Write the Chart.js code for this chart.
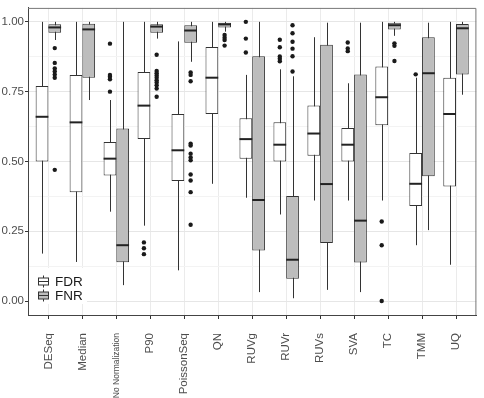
<!DOCTYPE html>
<html>
<head>
<meta charset="utf-8">
<script src="https://cdn.jsdelivr.net/npm/chart.js@4.4.0/dist/chart.umd.min.js"></script>
<style>
  html, body { margin: 0; padding: 0; background: #fff; }
  #wrap { width: 484px; height: 398px; position: relative; }
</style>
</head>
<body>
<div id="wrap"><canvas id="grafico"></canvas></div>
<script>
const FONTE = 'Liberation Sans, Arial, Helvetica, sans-serif';

const categorias = ['DESeq', 'Median', 'No Normalization', 'P90', 'PoissonSeq', 'QN',
  'RUVg', 'RUVr', 'RUVs', 'SVA', 'TC', 'TMM', 'UQ'];

// FDR
const fdrMin = [0.17, 0.14, 0.32, 0.27, 0.11, 0.42, 0.37, 0.31, 0.36, 0.36, 0.36, 0.20, 0.13];
const fdrQ1  = [0.50, 0.39, 0.45, 0.58, 0.43, 0.67, 0.51, 0.50, 0.52, 0.50, 0.63, 0.34, 0.41];
const fdrMed = [0.66, 0.64, 0.51, 0.70, 0.54, 0.80, 0.58, 0.56, 0.60, 0.56, 0.73, 0.42, 0.67];
const fdrQ3  = [0.77, 0.81, 0.57, 0.82, 0.67, 0.91, 0.655, 0.64, 0.70, 0.62, 0.84, 0.53, 0.80];
const fdrMax = [1.00, 1.00, 0.72, 1.00, 0.93, 1.00, 0.81, 0.83, 0.945, 0.78, 1.00, 0.80, 1.00];
const fdrOut = [
  [], [], [0.922, 0.81, 0.803, 0.794, 0.75], [0.21, 0.189, 0.168], [], [],
  [1.0, 0.94, 0.89], [0.936, 0.909, 0.876, 0.868, 0.859], [], [0.926, 0.905, 0.895],
  [0.285, 0.2, 0.0], [0.812], []
];

// FNR
const fnrMin = [0.935, 0.72, 0.057, 0.94, 0.857, 0.965, 0.032, 0.01, 0.04, 0.032, 0.95, 0.254, 0.739];
const fnrQ1  = [0.961, 0.80, 0.139, 0.961, 0.925, 0.98, 0.181, 0.08, 0.208, 0.138, 0.973, 0.447, 0.811];
const fnrMed = [0.98, 0.973, 0.20, 0.983, 0.969, 0.991, 0.362, 0.148, 0.419, 0.288, 0.988, 0.816, 0.977];
const fnrQ3  = [0.991, 0.993, 0.618, 0.991, 0.988, 0.997, 0.877, 0.376, 0.918, 0.811, 0.997, 0.945, 0.992];
const fnrMax = [1.0, 1.0, 1.0, 1.0, 1.0, 1.0, 1.0, 0.805, 0.997, 0.997, 1.0, 0.997, 1.0];
const fnrOut = [
  [0.906, 0.853, 0.833, 0.822, 0.811, 0.80, 0.47], [], [],
  [0.882, 0.824, 0.816, 0.808, 0.80, 0.791, 0.783, 0.773, 0.761, 0.732],
  [0.819, 0.81, 0.787, 0.564, 0.557, 0.528, 0.514, 0.504, 0.453, 0.432, 0.39, 0.273],
  [0.953, 0.943, 0.935, 0.915], [], [0.988, 0.959, 0.929, 0.904, 0.877, 0.822],
  [], [], [0.923, 0.914, 0.86], [], []
];

const yTicks = [0, 0.125, 0.25, 0.375, 0.5, 0.625, 0.75, 0.875, 1];

const LARGURA_GRUPO = 0.75;           // dodge width (ggplot default)
const DESLOC = LARGURA_GRUPO / 4;     // centre of each box from category

function ehMaior(v) {
  return Math.abs(v * 4 - Math.round(v * 4)) < 1e-6;
}

function pontos(listas, lado) {
  let pts = [];
  listas.forEach(function (lista, i) {
    lista.forEach(function (v) {
      pts.push({ x: i + 1 + lado * DESLOC, y: v });
    });
  });
  return pts;
}

// whiskers, medians, legend and panel border
const pluginBoxplot = {
  id: 'boxplot',
  beforeDatasetsDraw(chart) {
    const ctx = chart.ctx;
    const y = chart.scales.y;
    [[0, fdrMin, fdrMax], [1, fnrMin, fnrMax]].forEach(function (d) {
      const meta = chart.getDatasetMeta(d[0]);
      meta.data.forEach(function (barra, i) {
        const x = Math.round(barra.x) + 0.5;
        ctx.save();
        ctx.strokeStyle = '#333';
        ctx.lineWidth = 1;
        ctx.beginPath();
        ctx.moveTo(x, y.getPixelForValue(d[2][i]));
        ctx.lineTo(x, y.getPixelForValue(d[1][i]));
        ctx.stroke();
        ctx.restore();
      });
    });
  },
  afterDatasetsDraw(chart) {
    const ctx = chart.ctx;
    const y = chart.scales.y;
    [[0, fdrMed], [1, fnrMed]].forEach(function (d) {
      const meta = chart.getDatasetMeta(d[0]);
      meta.data.forEach(function (barra, i) {
        const py = y.getPixelForValue(d[1][i]);
        ctx.save();
        ctx.strokeStyle = '#222';
        ctx.lineWidth = 2;
        ctx.beginPath();
        ctx.moveTo(barra.x - barra.width / 2, py);
        ctx.lineTo(barra.x + barra.width / 2, py);
        ctx.stroke();
        ctx.restore();
      });
    });
  },
  afterDraw(chart) {
    const ctx = chart.ctx;
    const a = chart.chartArea;
    ctx.save();
    // top / right border
    ctx.strokeStyle = '#777';
    ctx.lineWidth = 1;
    ctx.beginPath();
    ctx.moveTo(a.left, a.top + 0.5);
    ctx.lineTo(a.right - 0.5, a.top + 0.5);
    ctx.lineTo(a.right - 0.5, a.bottom);
    ctx.stroke();

    // legend inside the panel
    const lx = a.left + 1;
    ctx.fillStyle = '#fff';
    ctx.fillRect(lx, 268, 58, 36);
    const itens = [['FDR', '#ffffff', 281.5], ['FNR', '#bdbdbd', 295.5]];
    itens.forEach(function (it) {
      const cx = 43.5, cy = it[2];
      ctx.strokeStyle = '#333';
      ctx.lineWidth = 1;
      ctx.beginPath();
      ctx.moveTo(cx, cy - 6);
      ctx.lineTo(cx, cy + 6);
      ctx.stroke();
      ctx.fillStyle = it[1];
      ctx.fillRect(cx - 5, cy - 3.5, 10, 7);
      ctx.strokeRect(cx - 5, cy - 3.5, 10, 7);
      ctx.beginPath();
      ctx.moveTo(cx - 5, cy);
      ctx.lineTo(cx + 5, cy);
      ctx.stroke();
      ctx.fillStyle = '#1a1a1a';
      ctx.font = '13.5px ' + FONTE;
      ctx.textAlign = 'left';
      ctx.textBaseline = 'middle';
      ctx.fillText(it[0], 55, cy + 0.5);
    });
    ctx.restore();
  }
};

const dados = {
  datasets: [
    {
      type: 'bar',
      label: 'FDR',
      data: categorias.map(function (c, i) { return { x: i + 1, y: [fdrQ1[i], fdrQ3[i]] }; }),
      backgroundColor: '#ffffff',
      borderColor: '#333',
      borderWidth: 1,
      borderSkipped: false,
      categoryPercentage: LARGURA_GRUPO,
      barPercentage: 1,
      order: 3
    },
    {
      type: 'bar',
      label: 'FNR',
      data: categorias.map(function (c, i) { return { x: i + 1, y: [fnrQ1[i], fnrQ3[i]] }; }),
      backgroundColor: '#bdbdbd',
      borderColor: '#333',
      borderWidth: 1,
      borderSkipped: false,
      categoryPercentage: LARGURA_GRUPO,
      barPercentage: 1,
      order: 3
    },
    {
      type: 'scatter',
      label: 'FDR outliers',
      data: pontos(fdrOut, -1),
      pointRadius: 2.2,
      pointBackgroundColor: '#1a1a1a',
      pointBorderWidth: 0,
      order: 1
    },
    {
      type: 'scatter',
      label: 'FNR outliers',
      data: pontos(fnrOut, 1),
      pointRadius: 2.2,
      pointBackgroundColor: '#1a1a1a',
      pointBorderWidth: 0,
      order: 1
    }
  ]
};

const config = {
  type: 'bar',
  data: dados,
  options: {
    responsive: true,
    maintainAspectRatio: false,
    animation: false,
    layout: { padding: { top: 2, right: 3, left: 0, bottom: 0 } },
    plugins: {
      legend: { display: false },
      tooltip: { enabled: false }
    },
    scales: {
      x: {
        type: 'linear',
        min: 0.4,
        max: 13.6,
        offset: false,
        afterBuildTicks: function (s) { s.ticks = categorias.map(function (c, i) { return { value: i + 1 }; }); },
        afterFit: function (s) { s.height = 83; },
        grid: { offset: false, color: '#ebebeb', tickColor: '#333', tickLength: 4, lineWidth: 1 },
        border: { display: true, color: '#444', width: 1 },
        ticks: {
          autoSkip: false,
          minRotation: 90,
          maxRotation: 90,
          padding: 14,
          color: '#4d4d4d',
          font: function (c) { return { family: FONTE, size: c.index === 2 ? 8.5 : 11.5 }; },
          callback: function (v) { return categorias[Math.round(v) - 1]; }
        }
      },
      y: {
        min: -0.05,
        max: 1.05,
        afterBuildTicks: function (s) { s.ticks = yTicks.map(function (v) { return { value: v }; }); },
        afterFit: function (s) { s.width = 28; },
        grid: {
          color: function (c) { return ehMaior(c.tick.value) ? '#e6e6e6' : '#f3f3f3'; },
          tickColor: function (c) { return ehMaior(c.tick.value) ? '#333' : 'rgba(0,0,0,0)'; },
          tickLength: 3
        },
        border: { display: true, color: '#444', width: 1 },
        ticks: {
          padding: 1,
          color: '#4d4d4d',
          font: { family: FONTE, size: 11.5 },
          callback: function (v) { return ehMaior(v) ? v.toFixed(2) : ''; }
        }
      }
    }
  },
  plugins: [pluginBoxplot]
};

let meuGrafico = new Chart(document.getElementById('grafico'), config);
</script>
</body>
</html>
